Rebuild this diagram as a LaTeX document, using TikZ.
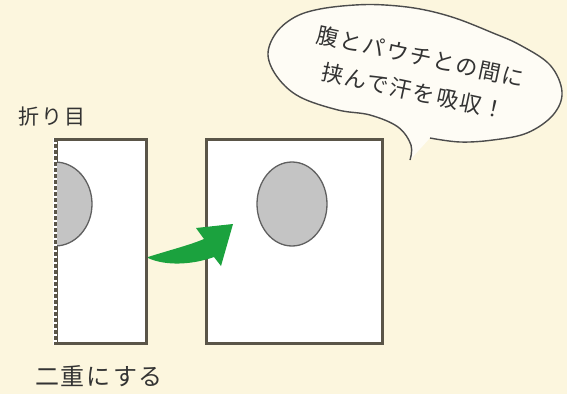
\documentclass[tikz,border=0pt]{standalone}
\usepackage{fontspec}
\usetikzlibrary{shapes.geometric}
\newfontfamily\jp{Noto Sans CJK JP}
\newfontfamily\jpwide[LetterSpace=8]{Noto Sans CJK JP}
\definecolor{bg}{HTML}{FCF6DE}
\definecolor{frame}{HTML}{5A5548}
\definecolor{spot}{HTML}{C4C4C4}
\definecolor{arrowgreen}{HTML}{1BA23E}
\definecolor{txt}{HTML}{333333}
\tikzset{
  panel/.style={draw=frame, line width=3pt, fill=white},
  spotshape/.style={draw=gray!75!black, line width=1.3pt, fill=spot},
  label/.style={text=txt, font=\jp\fontsize{20}{24}\selectfont, inner sep=0pt},
  bubble/.style={draw=gray!60!black, line width=1.4pt, fill=white!70!bg},
}
\begin{document}
\begin{tikzpicture}[x=1pt,y=-1pt]
\useasboundingbox (0,0) rectangle (567,394);
\fill[bg] (0,0) rectangle (567,394);

% left (folded) panel
\node[panel, minimum width=90pt, minimum height=204pt, inner sep=0pt, anchor=north west] (left) at (55,138) {};
\fill[spot] (55,162) arc[start angle=-90, end angle=90, x radius=37, y radius=42];
\draw[gray!75!black, line width=1.3pt] (55,162) arc[start angle=-90, end angle=90, x radius=37, y radius=42];
\draw[white, line width=3.2pt] (left.north west) -- (left.south west);
\draw[frame, line width=3pt, dash pattern=on 4pt off 2pt] (left.north west) -- (left.south west);

% right (open) panel
\node[panel, minimum width=176pt, minimum height=204pt, inner sep=0pt, anchor=north west] (right) at (205,138) {};
\node[spotshape, ellipse, minimum width=70pt, minimum height=84pt, inner sep=0pt] (spot) at (292,204) {};

% green arrow
\fill[arrowgreen] (148,257) .. controls (170,250) and (190,245) .. (204,239)
  -- (196,228) -- (233,224) -- (221,266) -- (214,257)
  .. controls (192,265) and (165,266) .. (148,258) -- cycle;

% speech bubble
\draw[bubble] plot[smooth, tension=0.6] coordinates {
  (430,138) (460,142) (493,140) (527,133) (553,115) (562,92) (550,65) (520,45) (493,33)
  (455,18) (420,9) (385,5) (355,5) (320,9) (295,17) (276,33) (268,55) (278,78) (300,97) (338,110)
  (370,115) (398,127) (411,145) (410,160)};

\node[label, rotate=-12, font=\jpwide\fontsize{22}{35}\selectfont, align=center] (say) at (417,74)
  {腹とパウチとの間に\\挟んで汗を吸収！};

\node[label, font=\jpwide\fontsize{21}{24}\selectfont] (fold) at (52,117) {折り目};
\node[label, font=\jpwide\fontsize{24}{26}\selectfont] (double) at (99,376) {二重にする};
\end{tikzpicture}
\end{document}
